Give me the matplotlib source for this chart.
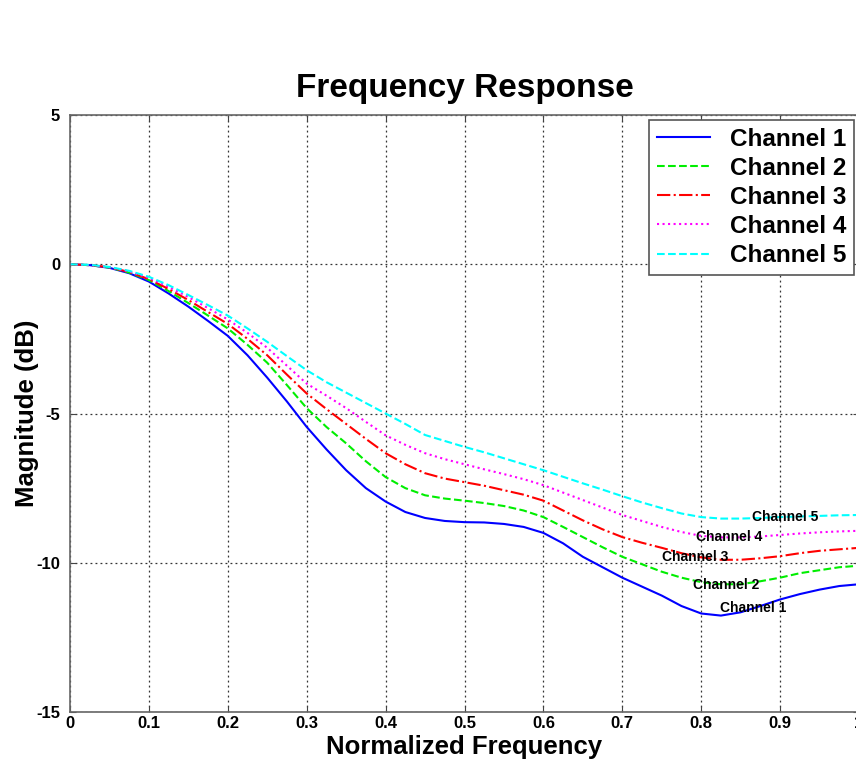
import numpy as np
import matplotlib
matplotlib.use("Agg")
import matplotlib.pyplot as plt

plt.rcParams["font.family"] = ["Liberation Sans", "DejaVu Sans"]
plt.rcParams["axes.unicode_minus"] = False

# ------------------------------- DATA -------------------------------------- #
freq = [0.0, 0.025, 0.05, 0.075, 0.1, 0.125, 0.15, 0.175, 0.2, 0.225, 0.25,
        0.275, 0.3, 0.325, 0.35, 0.375, 0.4, 0.425, 0.45, 0.475, 0.5,
        0.525, 0.55, 0.575, 0.6, 0.625, 0.65, 0.675, 0.7, 0.725, 0.75,
        0.775, 0.8, 0.825, 0.85, 0.875, 0.9, 0.925, 0.95, 0.975, 1.0]
ch1 = [0.0, -0.03, -0.12, -0.3, -0.58, -0.98, -1.42, -1.9, -2.4, -3.05, -3.8,
       -4.6, -5.45, -6.2, -6.9, -7.5, -7.95, -8.3, -8.5, -8.6, -8.64,
       -8.65, -8.7, -8.8, -9.0, -9.35, -9.8, -10.15, -10.5, -10.8, -11.1,
       -11.45, -11.7, -11.77, -11.66, -11.45, -11.23, -11.05, -10.9, -10.78, -10.72]
ch2 = [0.0, -0.03, -0.11, -0.28, -0.53, -0.9, -1.3, -1.72, -2.15, -2.7, -3.3,
       -4.05, -4.82, -5.45, -6.0, -6.6, -7.13, -7.5, -7.74, -7.85, -7.92,
       -8.0, -8.1, -8.25, -8.47, -8.8, -9.14, -9.48, -9.8, -10.05, -10.3,
       -10.5, -10.65, -10.72, -10.72, -10.62, -10.5, -10.35, -10.25, -10.15, -10.1]
ch3 = [0.0, -0.03, -0.1, -0.26, -0.5, -0.83, -1.2, -1.6, -2.0, -2.5, -3.05,
       -3.7, -4.33, -4.85, -5.35, -5.85, -6.33, -6.7, -7.0, -7.18, -7.3,
       -7.42, -7.57, -7.72, -7.92, -8.25, -8.58, -8.88, -9.14, -9.33, -9.5,
       -9.68, -9.82, -9.9, -9.9, -9.85, -9.78, -9.68, -9.6, -9.55, -9.5]
ch4 = [0.0, -0.03, -0.1, -0.24, -0.46, -0.76, -1.1, -1.47, -1.85, -2.3, -2.8,
       -3.4, -4.0, -4.4, -4.82, -5.28, -5.73, -6.05, -6.33, -6.53, -6.7,
       -6.87, -7.03, -7.2, -7.4, -7.65, -7.9, -8.15, -8.4, -8.6, -8.8,
       -8.97, -9.1, -9.15, -9.15, -9.12, -9.07, -9.02, -8.98, -8.95, -8.93]
ch5 = [0.0, -0.02, -0.09, -0.22, -0.42, -0.7, -1.03, -1.37, -1.72, -2.15, -2.6,
       -3.08, -3.55, -3.95, -4.3, -4.65, -5.0, -5.35, -5.72, -5.92, -6.12,
       -6.3, -6.5, -6.7, -6.9, -7.12, -7.34, -7.55, -7.77, -7.98, -8.17,
       -8.35, -8.47, -8.52, -8.52, -8.5, -8.47, -8.45, -8.43, -8.41, -8.4]

names = ["Channel 1", "Channel 2", "Channel 3", "Channel 4", "Channel 5"]
colors = ["#0000ff", "#00ee00", "#ff0000", "#ff00ff", "#00ffff"]
styles = ["-", "--", "-.", ":", "--"]

# in-plot channel annotations (x, y in data units)
label_x = [0.866, 0.831, 0.792, 0.835, 0.906]
label_y = [-11.52, -10.75, -9.82, -9.15, -8.47]

x_ticks = [0, 0.1, 0.2, 0.3, 0.4, 0.5, 0.6, 0.7, 0.8, 0.9, 1]
x_labels = ["0", "0.1", "0.2", "0.3", "0.4", "0.5", "0.6", "0.7", "0.8", "0.9", "1"]
y_ticks = [-15, -10, -5, 0, 5]

# ------------------------------ PLOTTING ----------------------------------- #
fig = plt.figure(figsize=(8.56, 7.64), dpi=100)
ax = fig.add_axes([70 / 856, 52 / 764, 789 / 856, 597 / 764])

for y, name, c, ls in zip([ch1, ch2, ch3, ch4, ch5], names, colors, styles):
    ax.plot(freq, y, linestyle=ls, color=c, linewidth=1.5, label=name)

for name, lx, ly in zip(names, label_x, label_y):
    ax.text(lx, ly, name, fontsize=10, fontweight="bold", ha="center", va="center")

ax.set_xlim(0, 1)
ax.set_ylim(-15, 5)
ax.set_xticks(x_ticks)
ax.set_xticklabels(x_labels)
ax.set_yticks(y_ticks)
ax.tick_params(direction="in", length=4, labelsize=12, width=0.8, color="#444444",
               top=True, right=True)
ax.tick_params(axis="x", pad=3)
ax.tick_params(axis="y", pad=7)
for lab in ax.get_xticklabels() + ax.get_yticklabels():
    lab.set_fontweight("bold")
ax.grid(True, linestyle=(0, (1.5, 2.5)), color="#333333", linewidth=0.9)
for sp in ax.spines.values():
    sp.set_color("#666666")
    sp.set_linewidth(1.2)

ax.set_title("Frequency Response", fontsize=24, fontweight="bold", pad=13)
ax.set_xlabel("Normalized Frequency", fontsize=18.5, fontweight="bold", labelpad=3)
ax.set_ylabel("Magnitude (dB)", fontsize=18.5, fontweight="bold", labelpad=-2)

leg = ax.legend(loc="upper right", bbox_to_anchor=(854 / 856, 1 - 120 / 764),
                bbox_transform=fig.transFigure, borderaxespad=0,
                prop={"size": 17.5, "weight": "bold"}, fancybox=False,
                framealpha=1, edgecolor="#555555", handlelength=2.2,
                labelspacing=0.25, borderpad=0.32, handletextpad=0.8)
leg.get_frame().set_linewidth(1.2)

fig.savefig("out.png", dpi=100)
